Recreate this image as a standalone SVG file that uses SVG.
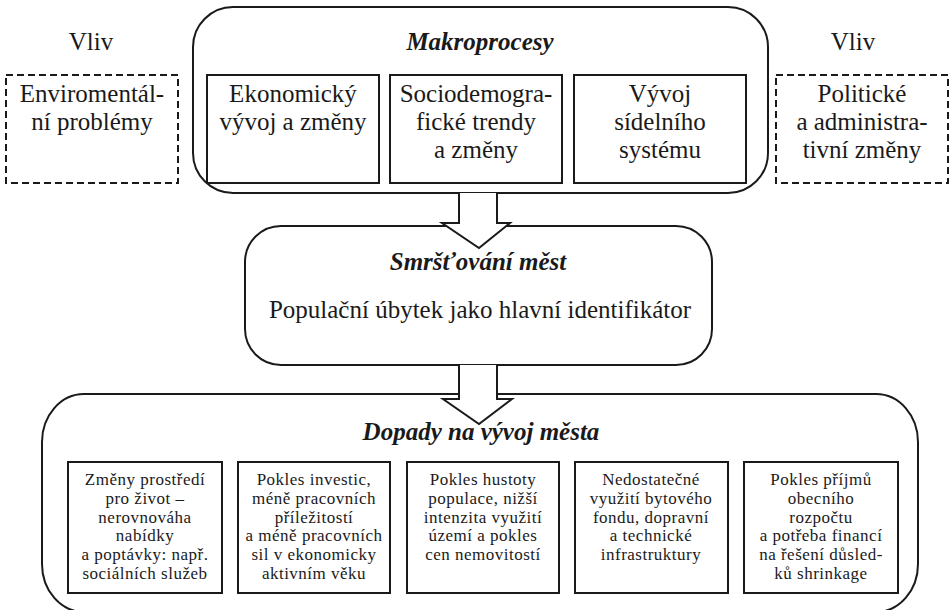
<svg xmlns="http://www.w3.org/2000/svg" width="950" height="610" viewBox="0 0 950 610">
<style>
.bg{fill:#ffffff}
.big{fill:#ffffff;stroke:#1a1a1a;stroke-width:2}
.box{fill:#ffffff;stroke:#1a1a1a;stroke-width:2}
.dash{fill:#ffffff;stroke:#1a1a1a;stroke-width:2;stroke-dasharray:7 4}
.arrow{fill:#ffffff;stroke:#1a1a1a;stroke-width:2;stroke-linejoin:miter}
text{font-family:"Liberation Serif","DejaVu Serif",serif;fill:#1a1a1a;text-anchor:middle}
.t{font-size:25px}
.ti{font-size:25px;font-style:italic;font-weight:bold}
.s{font-size:17px;letter-spacing:0.5px}
</style>
<rect class="bg" x="0" y="0" width="950" height="610"/>
<g id="makroprocesy">
<rect class="big" x="193" y="7" width="575" height="186" rx="40" ry="40"/>
<text class="ti" x="480" y="50">Makroprocesy</text>
</g>
<g id="ekonomicky">
<rect class="box" x="207" y="75" width="172" height="108"/>
<text class="t" x="293" y="102">Ekonomický</text>
<text class="t" x="293" y="130">vývoj a změny</text>
</g>
<g id="sociodemograficke">
<rect class="box" x="390" y="75" width="172" height="108"/>
<text class="t" x="476" y="102">Sociodemogra-</text>
<text class="t" x="476" y="130">fické trendy</text>
<text class="t" x="476" y="158">a změny</text>
</g>
<g id="sidelni">
<rect class="box" x="574" y="75" width="172" height="108"/>
<text class="t" x="660" y="102">Vývoj</text>
<text class="t" x="660" y="130">sídelního</text>
<text class="t" x="660" y="158">systému</text>
</g>
<g id="vliv-env">
<text class="t" x="91" y="50">Vliv</text>
<rect class="dash" x="6" y="75" width="172" height="108"/>
<text class="t" x="92" y="102">Enviromentál-</text>
<text class="t" x="92" y="130">ní problémy</text>
</g>
<g id="vliv-pol">
<text class="t" x="853" y="50">Vliv</text>
<rect class="dash" x="776" y="75" width="172" height="108"/>
<text class="t" x="862" y="102">Politické</text>
<text class="t" x="862" y="130">a administra-</text>
<text class="t" x="862" y="158">tivní změny</text>
</g>
<g id="smrstovani">
<rect class="big" x="245" y="226" width="467" height="139" rx="36" ry="36"/>
<text class="ti" x="478" y="270">Smršťování měst</text>
<text class="t" x="480" y="318">Populační úbytek jako hlavní identifikátor</text>
</g>
<g id="dopady">
<rect class="big" x="42" y="394" width="876" height="218" rx="42" ry="48"/>
<text class="ti" x="481" y="440">Dopady na vývoj města</text>
</g>
<g id="d1">
<rect class="box" x="68" y="462" width="154" height="131"/>
<text class="s" x="145" y="485">Změny prostředí</text>
<text class="s" x="145" y="503.8">pro život –</text>
<text class="s" x="145" y="522.6">nerovnováha</text>
<text class="s" x="145" y="541.4">nabídky</text>
<text class="s" x="145" y="560.2">a poptávky: např.</text>
<text class="s" x="145" y="579">sociálních služeb</text>
</g>
<g id="d2">
<rect class="box" x="238" y="462" width="152" height="131"/>
<text class="s" x="314" y="485">Pokles investic,</text>
<text class="s" x="314" y="503.8">méně pracovních</text>
<text class="s" x="314" y="522.6">příležitostí</text>
<text class="s" x="314" y="541.4">a méně pracovních</text>
<text class="s" x="314" y="560.2">sil v ekonomicky</text>
<text class="s" x="314" y="579">aktivním věku</text>
</g>
<g id="d3">
<rect class="box" x="407" y="462" width="152" height="131"/>
<text class="s" x="483" y="485">Pokles hustoty</text>
<text class="s" x="483" y="503.8">populace, nižší</text>
<text class="s" x="483" y="522.6">intenzita využití</text>
<text class="s" x="483" y="541.4">území a pokles</text>
<text class="s" x="483" y="560.2">cen nemovitostí</text>
</g>
<g id="d4">
<rect class="box" x="575" y="462" width="153" height="131"/>
<text class="s" x="651" y="485">Nedostatečné</text>
<text class="s" x="651" y="503.8">využití bytového</text>
<text class="s" x="651" y="522.6">fondu, dopravní</text>
<text class="s" x="651" y="541.4">a technické</text>
<text class="s" x="651" y="560.2">infrastruktury</text>
</g>
<g id="d5">
<rect class="box" x="744" y="462" width="154" height="131"/>
<text class="s" x="821" y="485">Pokles příjmů</text>
<text class="s" x="821" y="503.8">obecního</text>
<text class="s" x="821" y="522.6">rozpočtu</text>
<text class="s" x="821" y="541.4">a potřeba financí</text>
<text class="s" x="821" y="560.2">na řešení důsled-</text>
<text class="s" x="821" y="579">ků shrinkage</text>
</g>
<g id="connectors">
<path class="arrow" d="M459,193 V223 H442 L479,248 L510,223 H497 V193"/>
<path class="arrow" d="M459,365 V399 H443 L479,424 L512,399 H497 V365"/>
</g>
</svg>
